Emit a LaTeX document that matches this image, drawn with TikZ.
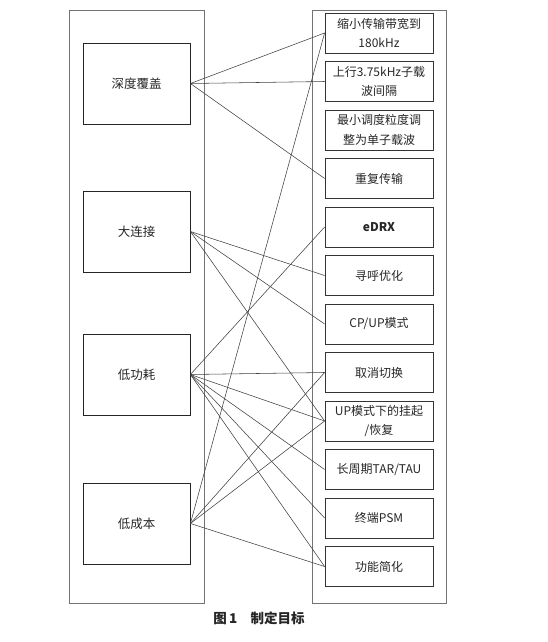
\documentclass[tikz,border=0pt]{standalone}
\usepackage{fontspec}
\setmainfont{Noto Sans CJK SC}
\usepackage{tikz}
\usetikzlibrary{positioning}

\tikzset{
    panel/.style = {draw = black!55, line width = 0.8pt},
    goal/.style = {draw = black!85, line width = 0.8pt, minimum width = 107pt, minimum height = 81pt,
                   inner sep = 0pt, text = black!85, font = \fontsize{12.5}{15}\selectfont},
    measure/.style = {draw = black!80, line width = 0.8pt, minimum width = 108pt, minimum height = 40pt,
                      inner sep = 0pt, align = center, text = black!85, font = \fontsize{12}{19.5}\selectfont},
    link/.style = {draw = black!75, line width = 0.55pt}
}

\begin{document}
\begin{tikzpicture}[x = 1pt, y = -1pt]
    % Parametri
    \pgfmathsetmacro{\xl}{136.5}
    \pgfmathsetmacro{\xr}{379}
    \pgfmathsetmacro{\ytop}{33}
    \pgfmathsetmacro{\pitch}{48.5}
    \useasboundingbox (0,0) rectangle (548,642);
    % Pannelli
    \draw[panel] (69,10) rectangle (204,603);
    \draw[panel] (312,10) rectangle (446,603);
    % Obiettivi
    \node[goal] (cover) at (\xl,83.5)  {深度覆盖};
    \node[goal] (conn)  at (\xl,231.5) {大连接};
    \node[goal] (power) at (\xl,374.5) {低功耗};
    \node[goal] (cost)  at (\xl,523.5) {低成本};
    % Misure
    \foreach \testo [count = \i] in {{缩小传输带宽到\\180kHz}, {上行3.75kHz子载\\波间隔},
        {最小调度粒度调\\整为单子载波}, {重复传输}, {\textbf{eDRX}}, {寻呼优化}, {CP/UP模式},
        {取消切换}, {UP模式下的挂起\\/恢复}, {长周期TAR/TAU}, {终端PSM}, {功能简化}}{
        \node[measure] (m\i) at (\xr,{\ytop+\pitch*(\i-1)}) {\testo};
    }
    % Collegamenti
    \foreach \a/\b in {cover/1, cover/2, cover/4,
                       conn/6, conn/7, conn/9,
                       power/5, power/8, power/9, power/10, power/11, power/12,
                       cost/1, cost/8, cost/9, cost/12}{
        \draw[link] (\a.east) -- (m\b.west);
    }
    % Didascalia
    \node[font = \fontsize{13.5}{16}\selectfont\bfseries, text = black!85] (caption) at (259,618) {图\,1\quad 制定目标};
\end{tikzpicture}
\end{document}
